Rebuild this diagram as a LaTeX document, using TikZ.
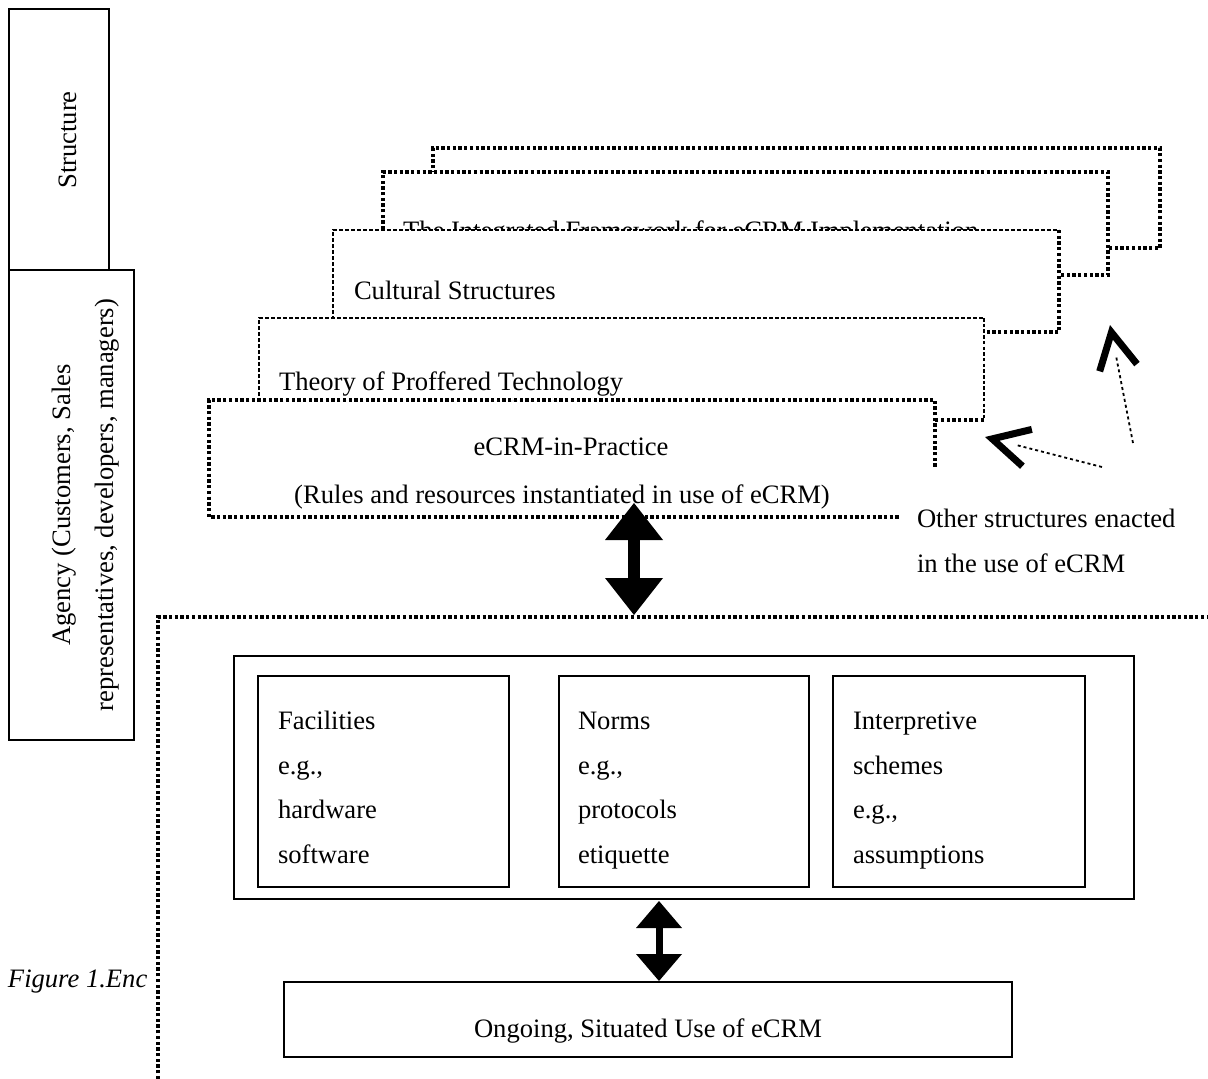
\documentclass[tikz,border=0pt]{standalone}
\usepackage{fontspec}
\setmainfont{Liberation Serif}
\usetikzlibrary{arrows.meta,calc}
\begin{document}
\begin{tikzpicture}[x=1pt,y=-1pt,
  every node/.style={inner sep=0pt,outer sep=0pt,font=\fontsize{26.6pt}{44pt}\selectfont},
  heavy/.style={line width=3.3pt,dash pattern=on 3.3pt off 2.4pt},
  light/.style={line width=1.4pt,dash pattern=on 4pt off 2pt},
  medium/.style={line width=2.2pt,dash pattern=on 3.5pt off 2.2pt},
  plate/.style={fill=white,rectangle,draw=none},
  solidbox/.style={draw,line width=2pt,rectangle},
  lbl/.style={anchor=base west},
  clbl/.style={anchor=base},
  bigdbl/.style={line width=12pt,{Triangle[length=37pt,width=58pt,line width=0pt]}-{Triangle[length=37pt,width=58pt,line width=0pt]}},
  smalldbl/.style={line width=7pt,{Triangle[length=27pt,width=46pt,line width=0pt]}-{Triangle[length=27pt,width=46pt,line width=0pt]}},
  chevshaft/.style={line width=1.8pt,dash pattern=on 3pt off 3pt,shorten >=31pt},
  chevtip/.style={line width=7pt,dash pattern=on 0pt off 10000pt,-{Straight Barb[length=36pt,width=38pt,sharp]}}
]
\useasboundingbox (0,0) rectangle (1208,1079);
\fill[white] (0,0) rectangle (1208,1079);

% left boxes
\node[solidbox,minimum width=100,minimum height=261] (structbox) at (59,139.5) {};
\node[solidbox,minimum width=125,minimum height=470] (agencybox) at (71.5,505) {};
\node[rotate=90] (structtxt) at (68,140) {Structure};
\node[rotate=90,align=center,font=\fontsize{26.6pt}{43pt}\selectfont] (agencytxt) at (85.5,505)
  {Agency (Customers, Sales\\representatives, developers, managers)};

% stacked structure boxes (back to front)
\node[plate,minimum width=727,minimum height=100] (b5) at (796.5,198) {};
\draw[heavy] (b5.south west) -- (b5.north west) -- (b5.north east) -- (b5.south east) -- cycle;

\node[plate,minimum width=725,minimum height=103] (b4) at (745.5,223.5) {};
\draw[heavy] (b4.south west) -- (b4.north west) -- (b4.north east) -- (b4.south east) -- cycle;
\node[lbl] (t4) at (403,239) {The Integrated Framework for eCRM Implementation};

\node[plate,minimum width=726,minimum height=102] (b3) at (696,281) {};
\draw[light] (b3.south west) -- (b3.north west) -- (b3.north east);
\draw[heavy] (b3.north east) -- (b3.south east) -- (b3.south west);
\node[lbl] (t3) at (354,299) {Cultural Structures};

\node[plate,minimum width=725,minimum height=102] (b2) at (621.5,369) {};
\draw[light] (b2.south west) -- (b2.north west) -- (b2.north east);
\draw[medium] (b2.north east) -- (b2.south east);
\draw[heavy] (b2.south east) -- (b2.south west);
\node[lbl] (t2) at (279,390) {Theory of Proffered Technology};

\node[plate,minimum width=726,minimum height=117] (b1) at (572,458.5) {};
\draw[heavy] ($(b1.north east)!0.57!(b1.south east)$) -- (b1.north east) -- (b1.north west)
  -- (b1.south west) -- ($(b1.south west)!0.951!(b1.south east)$);
\node[clbl] (t1a) at (571,455) {eCRM-in-Practice};
\node[clbl] (t1b) at (562,503) {(Rules and resources instantiated in use of eCRM)};

% other structures
\node[lbl] (oth1) at (917,527) {Other structures enacted};
\node[lbl] (oth2) at (917,572) {in the use of eCRM};
\coordinate (chA0) at (1102,467);
\coordinate (chA1) at (985,437);
\coordinate (chB0) at (1133,443);
\coordinate (chB1) at (1110,325);
\draw[chevshaft] (chA0) -- (chA1);
\draw[chevtip] (chA0) -- (chA1);
\draw[chevshaft] (chB0) -- (chB1);
\draw[chevtip] (chB0) -- (chB1);

% dotted region
\coordinate (rg1) at (158,1079);
\coordinate (rg2) at (158,617);
\coordinate (rg3) at (1210,617);
\begin{scope}
\clip (0,900) rectangle (157,1079);
\node[lbl,font=\fontsize{26.6pt}{44pt}\selectfont\itshape] (fig) at (8,987) {Figure 1.Enc};
\end{scope}
\draw[heavy] (rg1) -- (rg2) -- (rg3);

% big double arrow
\coordinate (da1) at (634,503);
\coordinate (da2) at (634,615);
\draw[bigdbl] (da1) -- (da2);

% structures box
\node[solidbox,minimum width=900,minimum height=243] (outer) at (684,777.5) {};
\node[solidbox,minimum width=251,minimum height=211] (fac) at (383.5,781.5) {};
\node[solidbox,minimum width=250,minimum height=211] (norms) at (684,781.5) {};
\node[solidbox,minimum width=252,minimum height=211] (interp) at (959,781.5) {};

\node[lbl] (fac1) at (278,729) {Facilities};
\node[lbl] (fac2) at (278,774) {e.g.,};
\node[lbl] (fac3) at (278,818) {hardware};
\node[lbl] (fac4) at (278,863) {software};

\node[lbl] (nor1) at (578,729) {Norms};
\node[lbl] (nor2) at (578,774) {e.g.,};
\node[lbl] (nor3) at (578,818) {protocols};
\node[lbl] (nor4) at (578,863) {etiquette};

\node[lbl] (int1) at (853,729) {Interpretive};
\node[lbl] (int2) at (853,774) {schemes};
\node[lbl] (int3) at (853,818) {e.g.,};
\node[lbl] (int4) at (853,863) {assumptions};

% ongoing use
\node[solidbox,minimum width=728,minimum height=75] (ongoing) at (648,1019.5) {};
\node[clbl] (ongtxt) at (648,1037) {Ongoing, Situated Use of eCRM};

\coordinate (db1) at (659,901);
\coordinate (db2) at (659,981);
\draw[smalldbl] (db1) -- (db2);
\end{tikzpicture}
\end{document}
